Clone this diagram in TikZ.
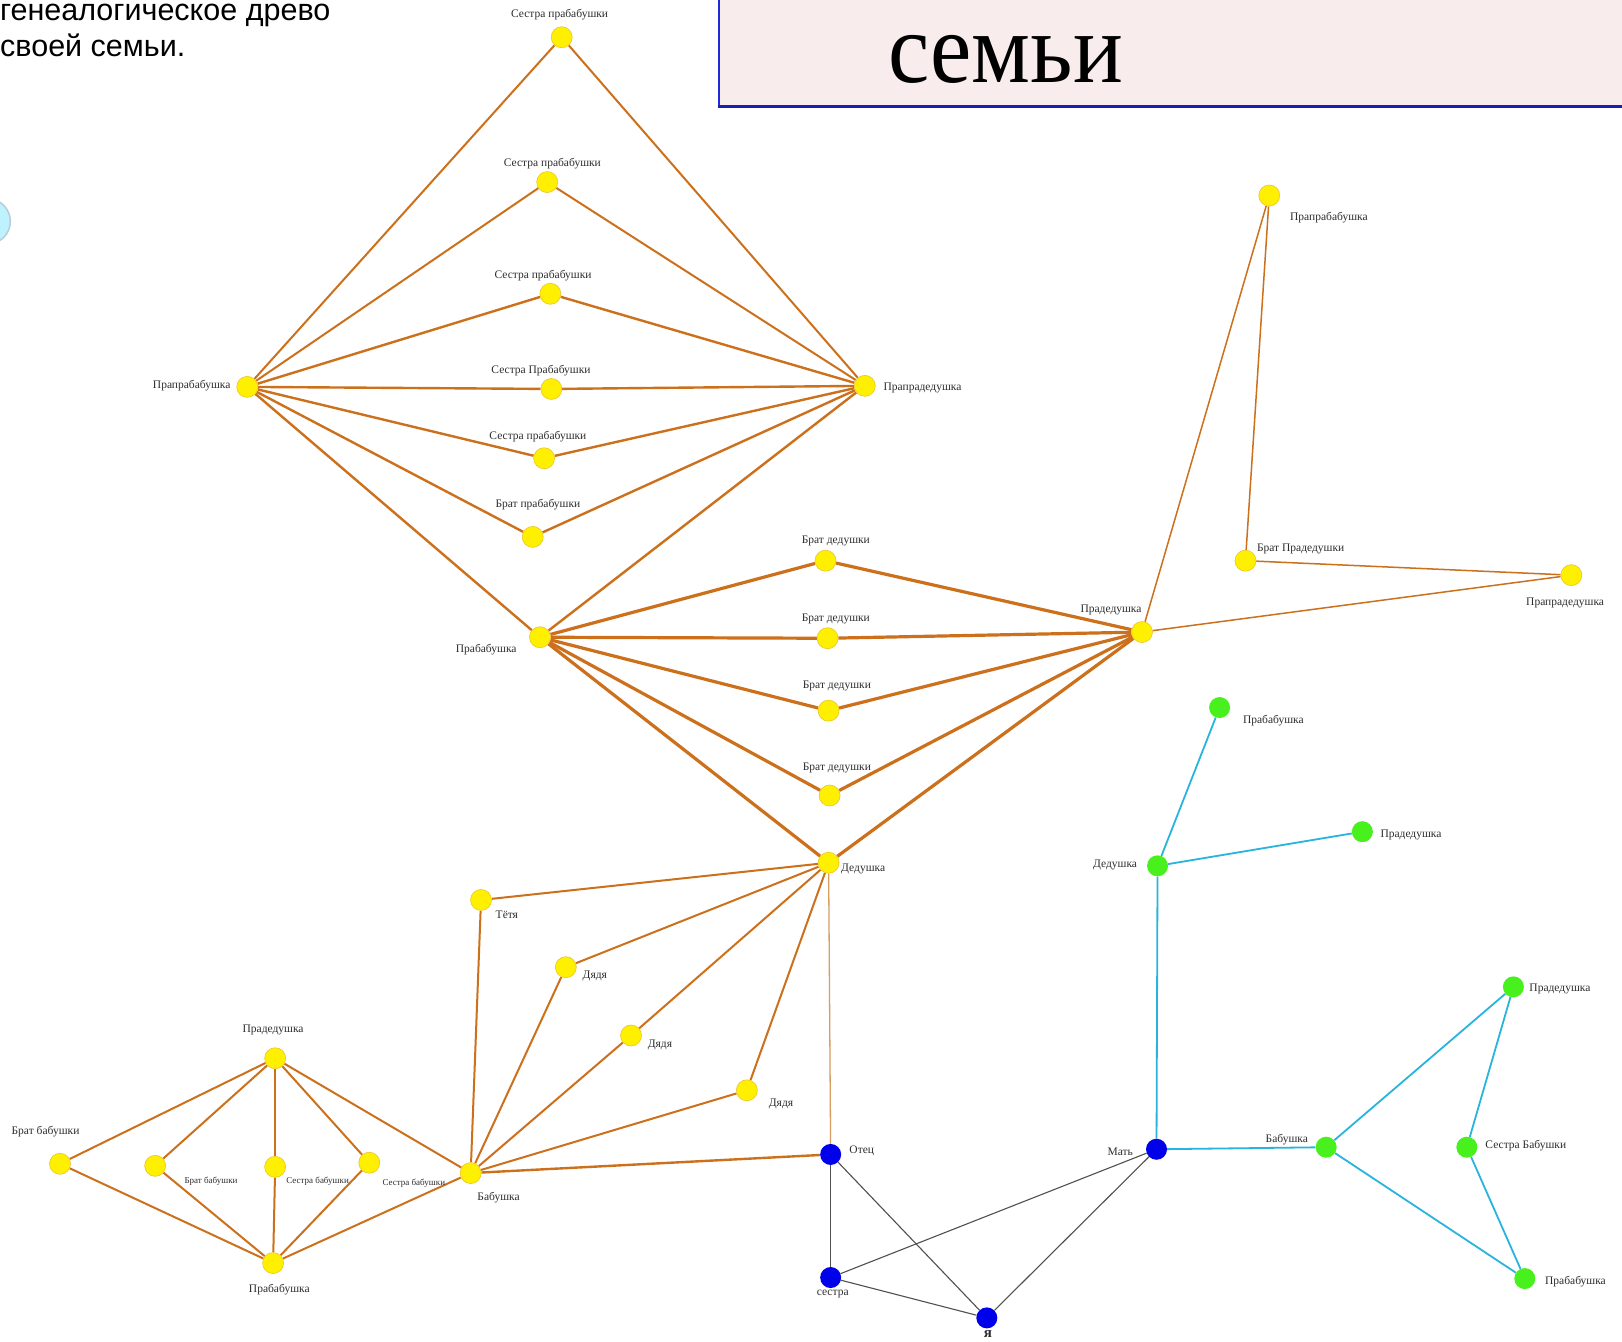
\documentclass[tikz,border=0pt]{standalone}
\usepackage{fontspec}
\setmainfont{Liberation Serif}
\newfontfamily\arialf{Liberation Sans}
\usetikzlibrary{backgrounds}
\definecolor{brownE}{RGB}{204,112,28}
\definecolor{tanE}{RGB}{214,158,96}
\definecolor{ynode}{RGB}{255,240,0}
\definecolor{yborder}{RGB}{236,196,40}
\definecolor{bnode}{RGB}{0,0,235}
\definecolor{gnode}{RGB}{72,240,30}
\definecolor{cyanE}{RGB}{40,180,220}
\definecolor{greyE}{RGB}{80,80,80}
\definecolor{lblgray}{RGB}{45,45,45}
\definecolor{pinkbg}{RGB}{248,236,236}
\definecolor{boxblue}{RGB}{30,40,220}
\tikzset{
  yn/.style={circle, fill=ynode, draw=yborder, line width=0.6pt, minimum size=21pt, inner sep=0pt},
  bn/.style={circle, fill=bnode, draw=none, minimum size=21pt, inner sep=0pt},
  gn/.style={circle, fill=gnode, draw=none, minimum size=21pt, inner sep=0pt},
  lb/.style={font=\fontsize{11.5}{12}\selectfont, text=lblgray, inner sep=0pt},
  slb/.style={font=\fontsize{9}{10}\selectfont, text=lblgray, inner sep=0pt},
  ethick/.style={draw=brownE, line width=3.2pt},
  emid/.style={draw=brownE, line width=2.4pt},
  enorm/.style={draw=brownE, line width=2pt},
  ethin/.style={draw=brownE, line width=1.5pt},
  etan/.style={draw=tanE, line width=1.3pt},
  egrey/.style={draw=greyE, line width=1.1pt},
  ecyan/.style={draw=cyanE, line width=1.8pt}
}
\begin{document}
\begin{tikzpicture}[x=1.0344pt,y=-1.0344pt]
\useasboundingbox (0,0) rectangle (1568,1297);
% faint round artefact at left edge
\fill[blue!20!cyan!25, draw=cyan!30!gray!50, line width=1.5pt] (-12,214) circle (22);
% title box
\fill[pinkbg] (695,-10) rectangle (1580,103);
\draw[boxblue, line width=2pt] (695,-10) -- (695,103);
\draw[boxblue!80!black, line width=3pt] (694,103) -- (1580,103);
\node[anchor=base, inner sep=0pt] (title) at (972,80) {\scalebox{0.93}[1]{\fontsize{100}{100}\selectfont семьи}};
% top-left text
\node[anchor=base west, inner sep=0pt, font=\arialf\fontsize{30.5}{36}\selectfont] (txt1) at (0,20) {генеалогическое древо};
\node[anchor=base west, inner sep=0pt, font=\arialf\fontsize{30.5}{36}\selectfont] (txt2) at (0,55) {своей семьи.};

% ---------- nodes: top cluster ----------
\node[yn] (sp1) at (543,36) {};
\node[lb] (lsp1) at (541,14) {Сестра прабабушки};
\node[yn] (sp2) at (529,176) {};
\node[lb] (lsp2) at (534,158) {Сестра прабабушки};
\node[yn] (sp3) at (532,284) {};
\node[lb] (lsp3) at (525,266) {Сестра прабабушки};
\node[yn] (sp4) at (533,376) {};
\node[lb] (lsp4) at (523,358) {Сестра Прабабушки};
\node[yn] (sp5) at (526,443) {};
\node[lb] (lsp5) at (520,422) {Сестра прабабушки};
\node[yn] (bp) at (515,519) {};
\node[lb] (lbp) at (520,488) {Брат прабабушки};
\node[yn] (ppb) at (239,374) {};
\node[lb, anchor=east] (lppb) at (223,373) {Прапрабабушка};
\node[yn] (ppd) at (836,373) {};
\node[lb, anchor=west] (lppd) at (854,375) {Прапрадедушка};
\node[yn] (pb) at (522,616) {};
\node[lb] (lpb) at (470,628) {Прабабушка};
\node[yn] (bd1) at (798,542) {};
\node[lb] (lbd1) at (808,523) {Брат дедушки};
\node[yn] (bd2) at (800,617) {};
\node[lb] (lbd2) at (808,598) {Брат дедушки};
\node[yn] (bd3) at (801,687) {};
\node[lb] (lbd3) at (809,663) {Брат дедушки};
\node[yn] (bd4) at (802,769) {};
\node[lb] (lbd4) at (809,742) {Брат дедушки};
\node[yn] (pd) at (1104,611) {};
\node[lb] (lpd) at (1074,590) {Прадедушка};
\node[yn] (ppb2) at (1227,189) {};
\node[lb, anchor=west] (lppb2) at (1247,210) {Прапрабабушка};
\node[yn] (bpd) at (1204,542) {};
\node[lb, anchor=west] (lbpd) at (1215,531) {Брат Прадедушки};
\node[yn] (ppd2) at (1519,556) {};
\node[lb] (lppd2) at (1513,583) {Прапрадедушка};

% ---------- middle / lower-left ----------
\node[yn] (d) at (801,834) {};
\node[lb, anchor=west] (ld) at (813,840) {Дедушка};
\node[yn] (t) at (465,870) {};
\node[lb] (lt) at (490,884) {Тётя};
\node[yn] (dy1) at (547,935) {};
\node[lb] (ldy1) at (575,943) {Дядя};
\node[yn] (dy2) at (610,1001) {};
\node[lb] (ldy2) at (638,1010) {Дядя};
\node[yn] (dy3) at (722,1054) {};
\node[lb] (ldy3) at (755,1067) {Дядя};
\node[yn] (b) at (455,1134) {};
\node[lb] (lb1) at (482,1158) {Бабушка};
\node[yn] (pdl) at (266,1023) {};
\node[lb] (lpdl) at (264,996) {Прадедушка};
\node[yn] (bb1) at (58,1125) {};
\node[lb] (lbb1) at (44,1094) {Брат бабушки};
\node[yn] (bb2) at (150,1127) {};
\node[slb] (lbb2) at (204,1142) {Брат бабушки};
\node[yn] (sb1) at (266,1128) {};
\node[slb] (lsb1) at (307,1142) {Сестра бабушки};
\node[yn] (sb2) at (357,1124) {};
\node[slb] (lsb2) at (400,1144) {Сестра бабушки};
\node[yn] (pbl) at (264,1221) {};
\node[lb] (lpbl) at (270,1247) {Прабабушка};

% ---------- blue ----------
\node[bn] (otec) at (803,1116) {};
\node[lb, anchor=west] (lotec) at (821,1112) {Отец};
\node[bn] (sestra) at (803,1235) {};
\node[lb] (lsestra) at (805,1251) {сестра};
\node[bn] (ya) at (954,1274) {};
\node[lb, font=\bfseries\fontsize{15}{15}\selectfont, anchor=north] (lya) at (955,1286) {я};
\node[bn] (mat) at (1118,1111) {};
\node[lb] (lmat) at (1083,1113) {Мать};

% ---------- green ----------
\node[gn] (gd) at (1119,837) {};
\node[lb] (lgd) at (1078,836) {Дедушка};
\node[gn] (gpb) at (1179,684) {};
\node[lb] (lgpb) at (1231,697) {Прабабушка};
\node[gn] (gpd) at (1317,804) {};
\node[lb] (lgpd) at (1364,807) {Прадедушка};
\node[gn] (gb) at (1282,1109) {};
\node[lb] (lgb) at (1244,1102) {Бабушка};
\node[gn] (gpd2) at (1463,954) {};
\node[lb] (lgpd2) at (1508,956) {Прадедушка};
\node[gn] (gsb) at (1418,1109) {};
\node[lb] (lgsb) at (1475,1107) {Сестра Бабушки};
\node[gn] (gpb2) at (1474,1236) {};
\node[lb] (lgpb2) at (1523,1239) {Прабабушка};

\begin{pgfonlayer}{background}
\fill[white] (0,0) rectangle (1568,1297);
% top cluster
\foreach \n in {sp1,sp2} {\draw[enorm] (ppb) -- (\n); \draw[enorm] (ppd) -- (\n);}
\foreach \n in {sp3,sp4,sp5,bp} {\draw[emid] (ppb) -- (\n); \draw[emid] (ppd) -- (\n);}
\draw[emid] (ppb) -- (pb);
\draw[emid] (ppd) -- (pb);
\foreach \n in {bd1,bd2,bd3,bd4,d} {\draw[ethick] (pb) -- (\n); \draw[ethick] (pd) -- (\n);}
\draw[ethin] (pd) -- (ppb2);
\draw[ethin] (pd) -- (ppd2);
\draw[ethin] (ppb2) -- (bpd);
\draw[ethin] (bpd) -- (ppd2);
% dedushka / babushka
\foreach \n in {t,dy1,dy2,dy3} {\draw[enorm] (d) -- (\n); \draw[enorm] (b) -- (\n);}
\draw[etan] (d) -- (otec);
\draw[emid] (b) -- (otec);
% lower-left
\foreach \n in {bb1,bb2,sb1,sb2,b} {\draw[enorm] (pdl) -- (\n); \draw[enorm] (pbl) -- (\n);}
% blue
\draw[egrey] (otec) -- (sestra);
\draw[egrey] (otec) -- (ya);
\draw[egrey] (sestra) -- (mat);
\draw[egrey] (sestra) -- (ya);
\draw[egrey] (mat) -- (ya);
% cyan
\draw[ecyan] (mat) -- (gd);
\draw[ecyan] (mat) -- (gb);
\draw[ecyan] (gd) -- (gpb);
\draw[ecyan] (gd) -- (gpd);
\draw[ecyan] (gb) -- (gpd2);
\draw[ecyan] (gb) -- (gpb2);
\draw[ecyan] (gpd2) -- (gsb);
\draw[ecyan] (gsb) -- (gpb2);
\end{pgfonlayer}
\end{tikzpicture}
\end{document}
